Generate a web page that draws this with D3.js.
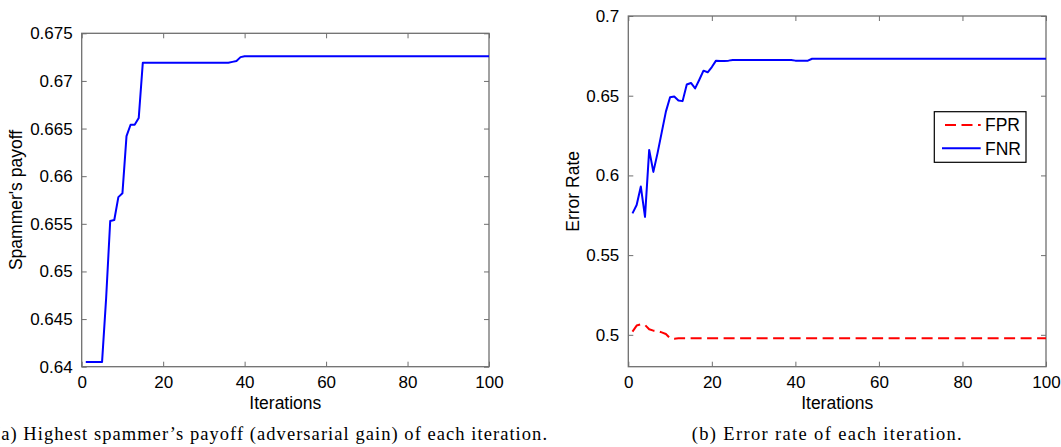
<!DOCTYPE html>
<html>
<head>
<meta charset="utf-8">
<script src="https://cdn.jsdelivr.net/npm/d3@7"></script>
<style>
  body { margin: 0; background: #fff; }
  svg { display: block; }
  .tick text { font-family: "Liberation Sans", Arial, sans-serif; font-size: 17px; fill: #000; }
  .lbl { font-family: "Liberation Sans", Arial, sans-serif; font-size: 17.5px; fill: #000; }
  .cap { font-family: "Liberation Serif", "Times New Roman", serif; font-size: 18.5px; fill: #000; }
</style>
</head>
<body>
<script>
'use strict';

// (a) spammer's payoff: vertices of the plotted line
const payoffIter = [1, 5, 6, 7, 8, 9, 10, 11, 12, 13, 14, 15, 36, 37, 38, 39, 40, 100];
const payoffVal = [0.6405, 0.6405, 0.6472, 0.6553, 0.6554, 0.6578, 0.6582, 0.6642, 0.6654,
  0.6654, 0.6661, 0.6719, 0.6719, 0.6720, 0.6721, 0.6725, 0.6726, 0.6726];

// (b) error rates
const fnrIter = [1, 2, 3, 4, 5, 6, 7, 8, 9, 10, 11, 12, 13, 14, 15, 16, 17, 18, 19, 20,
  21, 22, 23, 24, 25, 39, 40, 43, 44, 100];
const fnrVal = [0.5762, 0.5814, 0.5930, 0.5740, 0.6160, 0.6022, 0.6140, 0.6270, 0.6400, 0.6490,
  0.6495, 0.6470, 0.6466, 0.6570, 0.6580, 0.6546, 0.6600, 0.6657, 0.6647, 0.6680,
  0.6720, 0.6718, 0.6718, 0.6720, 0.6724, 0.6724, 0.6720, 0.6720, 0.6732, 0.6732];
const fprIter = [1, 2, 3, 4, 5, 6, 7, 8, 9, 10, 11, 12, 100];
const fprVal = [0.5020, 0.5058, 0.5066, 0.5062, 0.5035, 0.5026, 0.5024, 0.5015, 0.5005,
  0.4978, 0.4976, 0.4978, 0.4978];

const xTicks = [0, 20, 40, 60, 80, 100];
const payoffTicks = [0.64, 0.645, 0.65, 0.655, 0.66, 0.665, 0.67, 0.675];
const errTicks = [0.5, 0.55, 0.6, 0.65, 0.7];
const legendNames = ['FPR', 'FNR'];

const svg = d3.select('body').append('svg')
  .attr('width', 1061)
  .attr('height', 447);

function panel(box, yDomain, yTicks, yFmt, yLabel, yLabelX) {
  const x = d3.scaleLinear().domain([0, 100]).range([box.left, box.right]);
  const y = d3.scaleLinear().domain(yDomain).range([box.bottom, box.top]);
  const g = svg.append('g');
  const tk = 5;

  const axes = [
    [d3.axisBottom(x).tickValues(xTicks).tickFormat(d3.format('d')), box.bottom, 0, true],
    [d3.axisTop(x).tickValues(xTicks).tickFormat(''), box.top, 0, false],
    [d3.axisLeft(y).tickValues(yTicks).tickFormat(yFmt), 0, box.left, true],
    [d3.axisRight(y).tickValues(yTicks).tickFormat(''), 0, box.right, false],
  ];
  for (const [ax, ty, tx, labels] of axes) {
    const a = g.append('g')
      .attr('transform', `translate(${tx},${ty})`)
      .call(ax.tickSizeInner(-tk).tickSizeOuter(0).tickPadding(labels ? 9 : 0));
    a.select('.domain').remove();
    a.selectAll('.tick line').attr('stroke', '#6f6f6f');
  }
  g.selectAll('.tick text').filter(function () { return this.textContent === ''; }).remove();

  g.append('rect')
    .attr('x', box.left).attr('y', box.top)
    .attr('width', box.right - box.left).attr('height', box.bottom - box.top)
    .attr('fill', 'none').attr('stroke', '#6f6f6f').attr('stroke-width', 1.3);

  g.append('text').attr('class', 'lbl')
    .attr('x', (box.left + box.right) / 2).attr('y', 409)
    .attr('text-anchor', 'middle').text('Iterations');

  g.append('text').attr('class', 'lbl')
    .attr('transform', `translate(${yLabelX},${(box.top + box.bottom) / 2}) rotate(-90)`)
    .attr('text-anchor', 'middle').text(yLabel);

  return { x, y, g };
}

function drawLine(p, xs, ys, color, dash) {
  const line = d3.line().x((d) => p.x(d[0])).y((d) => p.y(d[1]));
  p.g.append('path')
    .datum(d3.zip(xs, ys))
    .attr('d', line)
    .attr('fill', 'none')
    .attr('stroke', color)
    .attr('stroke-width', 2)
    .attr('stroke-linejoin', 'round')
    .attr('stroke-dasharray', dash || null);
}

const pa = panel({ left: 81.7, right: 489, top: 33.3, bottom: 366.7 },
  [0.64, 0.675], payoffTicks, (d) => d3.format('.3~f')(d), 'Spammer\u2019s payoff'.replace('\u2019', "'"), 22);
drawLine(pa, payoffIter, payoffVal, '#0000ff');

const pb = panel({ left: 628.3, right: 1046, top: 16, bottom: 366.7 },
  [0.48, 0.7], errTicks, (d) => d3.format('.2~f')(d), 'Error Rate', 579);
drawLine(pb, fprIter, fprVal, '#ff0000', '11,5.5');
drawLine(pb, fnrIter, fnrVal, '#0000ff');

// legend
const lg = pb.g.append('g');
lg.append('rect')
  .attr('x', 934.3).attr('y', 111.7).attr('width', 91.7).attr('height', 50.6)
  .attr('fill', '#fff').attr('stroke', '#000').attr('stroke-width', 1.2);
legendNames.forEach((name, i) => {
  const ly = 125 + i * 23.3;
  lg.append('line')
    .attr('x1', i ? 942 : 945).attr('x2', 980.7).attr('y1', ly).attr('y2', ly)
    .attr('stroke', i ? '#0000ff' : '#ff0000').attr('stroke-width', 2)
    .attr('stroke-dasharray', i ? null : '11,5.5');
  lg.append('text').attr('class', 'lbl')
    .attr('x', 985).attr('y', ly + 6.3).text(name);
});

// captions
svg.append('text').attr('class', 'cap')
  .attr('x', -6).attr('y', 440)
  .attr('textLength', 553).attr('lengthAdjust', 'spacing')
  .text('(a) Highest spammer\u2019s payoff (adversarial gain) of each iteration.');
svg.append('text').attr('class', 'cap')
  .attr('x', 691.7).attr('y', 439.5)
  .attr('textLength', 270).attr('lengthAdjust', 'spacing')
  .text('(b) Error rate of each iteration.');
</script>
</body>
</html>
